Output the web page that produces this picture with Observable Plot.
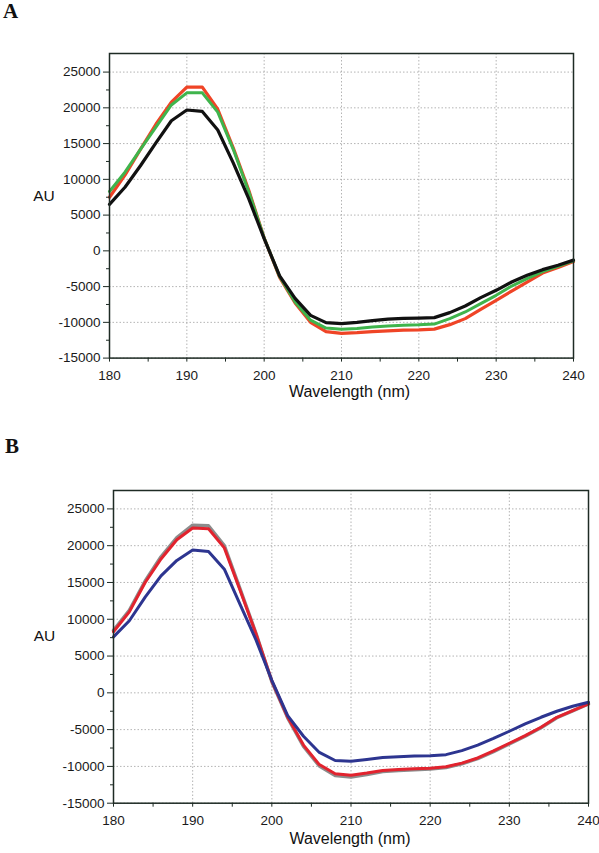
<!DOCTYPE html>
<html><head><meta charset="utf-8">
<script src="https://cdn.jsdelivr.net/npm/d3@7"></script>
<script src="https://cdn.jsdelivr.net/npm/@observablehq/plot@0.6"></script>
<style>
body{margin:0;background:#fff;}
#wrap{position:relative;width:599px;height:853px;overflow:hidden;background:#fff;}
.panel{position:absolute;left:0;}
.letter{position:absolute;font-family:"Liberation Serif","Times New Roman",serif;font-weight:bold;font-size:21px;line-height:1;color:#111;}
#wrap svg g[aria-label$="tick label"] text{font-size:13.5px;font-family:"Liberation Sans Narrow","Arial Narrow","Liberation Sans",Arial,sans-serif;fill:#1a1a1a;}
</style></head><body><div id="wrap"></div>
<script>
const wavelengths = [180,182,184,186,188,190,192,194,196,198,200,202,204,206,208,210,212,214,216,218,220,222,224,226,228,230,232,234,236,238,240];

// Panel A
const aRed   = [7500,10600,14200,17700,20800,22900,22900,19800,14400,8500,1800,-3700,-7300,-10000,-11300,-11550,-11450,-11300,-11200,-11100,-11050,-10950,-10320,-9480,-8180,-6920,-5620,-4360,-3100,-2340,-1500];
const aGreen = [8300,11000,14200,17300,20400,22100,22100,19400,14200,8300,1800,-3600,-7150,-9700,-10800,-10980,-10850,-10650,-10500,-10400,-10350,-10240,-9480,-8550,-7380,-6220,-4920,-3890,-2900,-2160,-1400];
const aBlack = [6500,8900,11900,15100,18200,19700,19500,16900,12300,7300,1700,-3500,-6640,-9020,-10040,-10190,-10000,-9750,-9550,-9450,-9400,-9340,-8640,-7710,-6540,-5520,-4360,-3420,-2630,-2020,-1300];

// Panel B
const bGray = [8500,11200,15200,18500,21100,22800,22700,20000,14100,8100,1500,-3400,-7300,-9950,-11250,-11450,-11100,-10700,-10550,-10450,-10350,-10150,-9650,-8950,-8000,-6950,-5900,-4750,-3380,-2450,-1520];
const bRed  = [8300,11000,15000,18200,20800,22400,22300,19700,13900,8000,1600,-3300,-7100,-9750,-11000,-11200,-10900,-10550,-10430,-10330,-10250,-10050,-9550,-8850,-7900,-6850,-5810,-4680,-3320,-2410,-1500];
const bBlue = [7600,9800,13000,15900,18000,19400,19200,16800,12000,7200,1700,-3100,-5900,-8100,-9200,-9300,-9050,-8800,-8700,-8600,-8550,-8400,-7850,-7100,-6200,-5220,-4220,-3320,-2500,-1830,-1280];

const xTicks = [180,190,200,210,220,230,240];
const xMinor = [185,195,205,215,225,235];
const yTicks = [-15000,-10000,-5000,0,5000,10000,15000,20000,25000];
const yMinor = [-12500,-7500,-2500,2500,7500,12500,17500,22500];
const xLabel = "Wavelength (nm)";
const yLabel = "AU";

function makePanel(series, o) {
  const rows = series.flatMap(s => wavelengths.map((w, i) => ({wl: w, v: s.values[i], key: s.key})));
  const axisColor = "#1e2b24";
  return Plot.plot({
    width: 599, height: o.height,
    marginLeft: o.ml, marginRight: o.mr, marginTop: o.mt, marginBottom: o.mb,
    x: {domain: [180, 240]},
    y: {domain: [-15000, o.ytop]},
    style: {fontFamily: "'Liberation Sans', Arial, sans-serif", fontSize: "12.5px", color: "#222", background: "white"},
    marks: [
      Plot.gridX(xTicks, {stroke: "#ababab", strokeOpacity: 1, strokeDasharray: "1.5,2", strokeWidth: 0.9}),
      Plot.gridY(yTicks, {stroke: "#ababab", strokeOpacity: 1, strokeDasharray: "1.5,2", strokeWidth: 0.9}),
      ...series.map(s => Plot.line(rows.filter(r => r.key === s.key), {x: "wl", y: "v", stroke: s.color, strokeWidth: s.width})),
      Plot.frame({stroke: axisColor, strokeWidth: 1.5}),
      Plot.axisX(xTicks, {tickSize: 4, tickPadding: 8, tickFormat: d => String(d), label: null, stroke: axisColor, fill: "#1a1a1a"}),
      Plot.axisX(xMinor, {tickSize: 4, tickFormat: () => "", label: null, stroke: axisColor}),
      Plot.axisY(yTicks, {tickSize: 6, tickPadding: 3, tickFormat: d => String(d), label: null, stroke: axisColor, fill: "#1a1a1a"}),
      Plot.axisY(yMinor, {tickSize: 3, tickFormat: () => "", label: null, stroke: axisColor}),
      Plot.text([xLabel], {text: d => d, frameAnchor: "bottom", dx: o.xlDx, dy: o.xlDy, fontSize: 16, fill: "#111"}),
      Plot.text([yLabel], {text: d => d, frameAnchor: "left", dx: o.ylDx, dy: o.ylDy, fontSize: 15.5, fill: "#111", textAnchor: "middle"})
    ]
  });
}

const wrap = document.getElementById("wrap");

const A = makePanel([
  {key: "red", values: aRed, color: "#ef4426", width: 3.2},
  {key: "green", values: aGreen, color: "#3fb44c", width: 3},
  {key: "black", values: aBlack, color: "#111111", width: 3.2}
], {height: 410, ml: 109, mr: 26, mt: 53, mb: 52.4, ytop: 27600, xlDx: 8, xlDy: 38.5, ylDx: -65.5, ylDy: -9.5});
A.classList.add("panel"); A.style.top = "0px";
wrap.appendChild(A);

const B = makePanel([
  {key: "gray", values: bGray, color: "#8c8c8c", width: 3.4},
  {key: "red", values: bRed, color: "#e2232e", width: 3},
  {key: "blue", values: bBlue, color: "#2d3590", width: 3}
], {height: 416, ml: 113, mr: 11, mt: 53, mb: 50.3, ytop: 27500, xlDx: -1, xlDy: 41, ylDx: -69, ylDy: -11});
B.classList.add("panel"); B.style.top = "437px";
wrap.appendChild(B);

const la = document.createElement("div");
la.className = "letter"; la.textContent = "A"; la.style.left = "3px"; la.style.top = "1px";
wrap.appendChild(la);
const lb = document.createElement("div");
lb.className = "letter"; lb.textContent = "B"; lb.style.left = "5px"; lb.style.top = "436px";
wrap.appendChild(lb);
</script></body></html>
